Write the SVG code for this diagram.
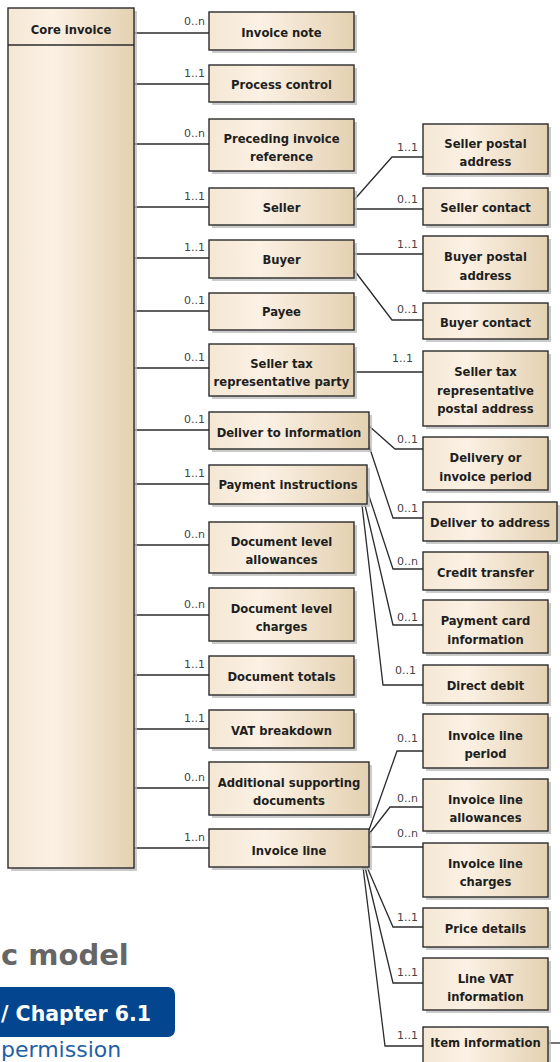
<svg xmlns="http://www.w3.org/2000/svg" width="560" height="1062" viewBox="0 0 560 1062">
<defs>
<linearGradient id="g" x1="0" y1="0" x2="1" y2="0">
<stop offset="0" stop-color="#f4e7d4"/>
<stop offset="0.35" stop-color="#fbf1e4"/>
<stop offset="1" stop-color="#e4d1b2"/>
</linearGradient>
<style>
.box{fill:url(#g);stroke:#2b2b2b;stroke-width:1.4}
.sh{fill:#b9b9b9;opacity:.75}
.t{font-family:"DejaVu Sans",sans-serif;font-weight:bold;font-size:11.6px;fill:#1e1e1e;text-anchor:middle}
.m{font-family:"DejaVu Sans",sans-serif;font-size:11px;fill:#444;text-anchor:end}
.c{fill:none;stroke:#2b2b2b;stroke-width:1.3}
</style>
</defs>
<rect width="560" height="1062" fill="#fff"/>

<g id="connectors">
<path class="c" d="M134 33H209M134 84H209M134 144H209M134 207H209M134 258H209M134 311H209M134 368H209M134 430H209M134 484H209M134 545H209M134 615H209M134 675H209M134 729H209M134 788H209M134 848H209"/>
<text class="m" x="205" y="25">0..n</text>
<text class="m" x="205" y="77">1..1</text>
<text class="m" x="205" y="137">0..n</text>
<text class="m" x="205" y="200">1..1</text>
<text class="m" x="205" y="251">1..1</text>
<text class="m" x="205" y="304">0..1</text>
<text class="m" x="205" y="361">0..1</text>
<text class="m" x="205" y="423">0..1</text>
<text class="m" x="205" y="477">1..1</text>
<text class="m" x="205" y="538">0..n</text>
<text class="m" x="205" y="608">0..n</text>
<text class="m" x="205" y="668">1..1</text>
<text class="m" x="205" y="722">1..1</text>
<text class="m" x="205" y="781">0..n</text>
<text class="m" x="205" y="841">1..n</text>

<polyline class="c" points="354,200 392,157 423,157"/>
<polyline class="c" points="354,209 423,209"/>
<polyline class="c" points="354,254 423,254"/>
<polyline class="c" points="354,270 392,320 423,320"/>
<polyline class="c" points="355,372 423,372"/>
<polyline class="c" points="369,426 395,449 423,449"/>
<polyline class="c" points="369,446 393,518 423,518"/>
<polyline class="c" points="367,490 393,569 423,569"/>
<polyline class="c" points="365,505 393,625 423,625"/>
<polyline class="c" points="362,505 383,685 423,685"/>
<polyline class="c" points="369,830 397,751 423,751"/>
<polyline class="c" points="369,834 390,807 423,807"/>
<polyline class="c" points="369,847 423,847"/>
<polyline class="c" points="367,867 393,927 423,927"/>
<polyline class="c" points="365,867 393,983 423,983"/>
<polyline class="c" points="363,867 385,1046 423,1046"/>
<polyline class="c" points="548,1043 560,1043"/>
<text class="m" x="418" y="151">1..1</text>
<text class="m" x="418" y="203">0..1</text>
<text class="m" x="418" y="248">1..1</text>
<text class="m" x="418" y="313">0..1</text>
<text class="m" x="413" y="362">1..1</text>
<text class="m" x="418" y="443">0..1</text>
<text class="m" x="418" y="512">0..1</text>
<text class="m" x="418" y="565">0..n</text>
<text class="m" x="418" y="621">0..1</text>
<text class="m" x="416" y="674">0..1</text>
<text class="m" x="418" y="742">0..1</text>
<text class="m" x="418" y="802">0..n</text>
<text class="m" x="418" y="837">0..n</text>
<text class="m" x="418" y="921">1..1</text>
<text class="m" x="418" y="976">1..1</text>
<text class="m" x="418" y="1039">1..1</text>
</g>

<g id="core-invoice">
<rect class="sh" x="11" y="11" width="126" height="860"/>
<rect class="box" x="8" y="8" width="126" height="860"/>
<line x1="8" y1="45" x2="134" y2="45" stroke="#2b2b2b" stroke-width="1.4"/>
<text class="t" x="71" y="34">Core invoice</text>
</g>

<g id="invoice-note"><rect class="sh" x="212" y="15" width="145" height="38"/><rect class="box" x="209" y="12" width="145" height="38"/><text class="t" x="281.5" y="37">Invoice note</text></g>
<g id="process-control"><rect class="sh" x="212" y="68" width="145" height="37"/><rect class="box" x="209" y="65" width="145" height="37"/><text class="t" x="281.5" y="89">Process control</text></g>
<g id="preceding-invoice-reference"><rect class="sh" x="212" y="122" width="145" height="52"/><rect class="box" x="209" y="119" width="145" height="52"/><text class="t" x="281.5" y="143">Preceding invoice</text><text class="t" x="281.5" y="161">reference</text></g>
<g id="seller"><rect class="sh" x="212" y="191" width="145" height="37"/><rect class="box" x="209" y="188" width="145" height="37"/><text class="t" x="281.5" y="212">Seller</text></g>
<g id="buyer"><rect class="sh" x="212" y="243" width="145" height="38"/><rect class="box" x="209" y="240" width="145" height="38"/><text class="t" x="281.5" y="264">Buyer</text></g>
<g id="payee"><rect class="sh" x="212" y="296" width="145" height="37"/><rect class="box" x="209" y="293" width="145" height="37"/><text class="t" x="281.5" y="316">Payee</text></g>
<g id="seller-tax-representative-party"><rect class="sh" x="212" y="347" width="145" height="52"/><rect class="box" x="209" y="344" width="145" height="52"/><text class="t" x="281.5" y="368">Seller tax</text><text class="t" x="281.5" y="386">representative party</text></g>
<g id="deliver-to-information"><rect class="sh" x="212" y="415" width="160" height="37"/><rect class="box" x="209" y="412" width="160" height="37"/><text class="t" x="289" y="437">Deliver to information</text></g>
<g id="payment-instructions"><rect class="sh" x="212" y="468" width="158" height="39"/><rect class="box" x="209" y="465" width="158" height="39"/><text class="t" x="288" y="489">Payment instructions</text></g>
<g id="document-level-allowances"><rect class="sh" x="212" y="525" width="145" height="51"/><rect class="box" x="209" y="522" width="145" height="51"/><text class="t" x="281.5" y="546">Document level</text><text class="t" x="281.5" y="564">allowances</text></g>
<g id="document-level-charges"><rect class="sh" x="212" y="591" width="145" height="53"/><rect class="box" x="209" y="588" width="145" height="53"/><text class="t" x="281.5" y="613">Document level</text><text class="t" x="281.5" y="631">charges</text></g>
<g id="document-totals"><rect class="sh" x="212" y="659" width="145" height="39"/><rect class="box" x="209" y="656" width="145" height="39"/><text class="t" x="281.5" y="681">Document totals</text></g>
<g id="vat-breakdown"><rect class="sh" x="212" y="713" width="145" height="38"/><rect class="box" x="209" y="710" width="145" height="38"/><text class="t" x="281.5" y="735">VAT breakdown</text></g>
<g id="additional-supporting-documents"><rect class="sh" x="212" y="765" width="160" height="53"/><rect class="box" x="209" y="762" width="160" height="53"/><text class="t" x="289" y="787">Additional supporting</text><text class="t" x="289" y="805">documents</text></g>
<g id="invoice-line"><rect class="sh" x="212" y="832" width="160" height="38"/><rect class="box" x="209" y="829" width="160" height="38"/><text class="t" x="289" y="855">Invoice line</text></g>

<g id="seller-postal-address"><rect class="sh" x="426" y="127" width="125" height="50"/><rect class="box" x="423" y="124" width="125" height="50"/><text class="t" x="485.5" y="148">Seller postal</text><text class="t" x="485.5" y="166">address</text></g>
<g id="seller-contact"><rect class="sh" x="426" y="191" width="125" height="37"/><rect class="box" x="423" y="188" width="125" height="37"/><text class="t" x="485.5" y="212">Seller contact</text></g>
<g id="buyer-postal-address"><rect class="sh" x="426" y="239" width="125" height="55"/><rect class="box" x="423" y="236" width="125" height="55"/><text class="t" x="485.5" y="261">Buyer postal</text><text class="t" x="485.5" y="280">address</text></g>
<g id="buyer-contact"><rect class="sh" x="426" y="306" width="125" height="36"/><rect class="box" x="423" y="303" width="125" height="36"/><text class="t" x="485.5" y="327">Buyer contact</text></g>
<g id="seller-tax-representative-postal-address"><rect class="sh" x="426" y="354" width="125" height="75"/><rect class="box" x="423" y="351" width="125" height="75"/><text class="t" x="485.5" y="376">Seller tax</text><text class="t" x="485.5" y="395">representative</text><text class="t" x="485.5" y="413">postal address</text></g>
<g id="delivery-or-invoice-period"><rect class="sh" x="426" y="440" width="125" height="53"/><rect class="box" x="423" y="437" width="125" height="53"/><text class="t" x="485.5" y="462">Delivery or</text><text class="t" x="485.5" y="481">invoice period</text></g>
<g id="deliver-to-address"><rect class="sh" x="426" y="505" width="134" height="39"/><rect class="box" x="423" y="502" width="134" height="39"/><text class="t" x="490" y="527">Deliver to address</text></g>
<g id="credit-transfer"><rect class="sh" x="426" y="555" width="125" height="38"/><rect class="box" x="423" y="552" width="125" height="38"/><text class="t" x="485.5" y="577">Credit transfer</text></g>
<g id="payment-card-information"><rect class="sh" x="426" y="603" width="125" height="53"/><rect class="box" x="423" y="600" width="125" height="53"/><text class="t" x="485.5" y="625">Payment card</text><text class="t" x="485.5" y="644">information</text></g>
<g id="direct-debit"><rect class="sh" x="426" y="668" width="125" height="38"/><rect class="box" x="423" y="665" width="125" height="38"/><text class="t" x="485.5" y="690">Direct debit</text></g>
<g id="invoice-line-period"><rect class="sh" x="426" y="717" width="125" height="54"/><rect class="box" x="423" y="714" width="125" height="54"/><text class="t" x="485.5" y="740">Invoice line</text><text class="t" x="485.5" y="758">period</text></g>
<g id="invoice-line-allowances"><rect class="sh" x="426" y="782" width="125" height="52"/><rect class="box" x="423" y="779" width="125" height="52"/><text class="t" x="485.5" y="804">Invoice line</text><text class="t" x="485.5" y="822">allowances</text></g>
<g id="invoice-line-charges"><rect class="sh" x="426" y="846" width="125" height="54"/><rect class="box" x="423" y="843" width="125" height="54"/><text class="t" x="485.5" y="868">Invoice line</text><text class="t" x="485.5" y="886">charges</text></g>
<g id="price-details"><rect class="sh" x="426" y="911" width="125" height="39"/><rect class="box" x="423" y="908" width="125" height="39"/><text class="t" x="485.5" y="933">Price details</text></g>
<g id="line-vat-information"><rect class="sh" x="426" y="961" width="125" height="52"/><rect class="box" x="423" y="958" width="125" height="52"/><text class="t" x="485.5" y="983">Line VAT</text><text class="t" x="485.5" y="1001">information</text></g>
<g id="item-information"><rect class="sh" x="426" y="1030" width="125" height="40"/><rect class="box" x="423" y="1027" width="125" height="40"/><text class="t" x="485.5" y="1047">Item information</text></g>

<g id="caption">
<text x="1" y="965" font-family="DejaVu Sans, sans-serif" font-weight="bold" font-size="29" fill="#666666">c model</text>
<rect x="-12" y="987" width="187" height="50" rx="7" fill="#03468f"/>
<text x="1" y="1021" font-family="DejaVu Sans, sans-serif" font-weight="bold" font-size="20.5" fill="#ffffff">/ Chapter 6.1</text>
<text x="1" y="1057" font-family="DejaVu Sans, sans-serif" font-size="22" fill="#1f5fa6">permission</text>
</g>
</svg>
